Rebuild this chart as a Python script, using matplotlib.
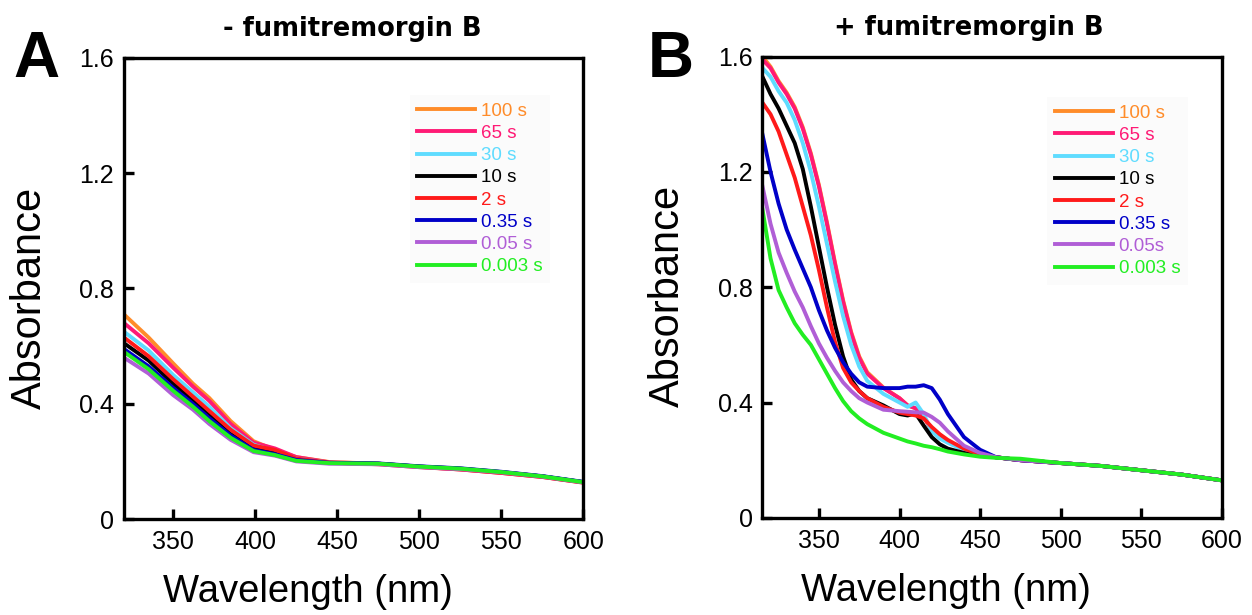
import numpy as np
import matplotlib
matplotlib.use('Agg')
import matplotlib.pyplot as plt
from matplotlib import font_manager

plt.rcParams['font.family'] = ['Liberation Sans', 'DejaVu Sans']

names = set(f.name for f in font_manager.fontManager.ttflist)
if 'Liberation Sans Narrow' in names:
    tick_font, tick_size = 'Liberation Sans Narrow', 21
else:
    tick_font, tick_size = 'Liberation Sans', 18

# legend labels / colours
labels_a = ['100 s', '65 s', '30 s', '10 s', '2 s', '0.35 s', '0.05 s', '0.003 s']
labels_b = ['100 s', '65 s', '30 s', '10 s', '2 s', '0.35 s', '0.05s', '0.003 s']
colors = ['#ff8c2a', '#ff1a75', '#5fdcff', '#000000', '#ff1a1a', '#0000c8', '#b05ed6', '#22ee22']

# panel A: - fumitremorgin B
wl_a = [320, 335, 350, 362, 372, 385, 399, 412, 425, 445, 475, 500, 525, 550, 575, 600]
a_100 = [0.71, 0.63, 0.54, 0.47, 0.42, 0.34, 0.27, 0.24, 0.215, 0.198, 0.192, 0.182, 0.174, 0.162, 0.148, 0.128]
a_65 = [0.68, 0.61, 0.525, 0.46, 0.41, 0.33, 0.265, 0.245, 0.215, 0.197, 0.192, 0.181, 0.172, 0.16, 0.146, 0.127]
a_30 = [0.65, 0.585, 0.50, 0.44, 0.39, 0.315, 0.258, 0.235, 0.21, 0.196, 0.192, 0.182, 0.174, 0.162, 0.148, 0.128]
a_10 = [0.61, 0.55, 0.47, 0.41, 0.36, 0.295, 0.245, 0.228, 0.205, 0.195, 0.192, 0.182, 0.175, 0.163, 0.148, 0.128]
a_2 = [0.63, 0.565, 0.485, 0.425, 0.375, 0.31, 0.255, 0.24, 0.21, 0.196, 0.19, 0.18, 0.172, 0.16, 0.146, 0.126]
a_035 = [0.59, 0.53, 0.455, 0.40, 0.35, 0.29, 0.24, 0.225, 0.205, 0.195, 0.193, 0.183, 0.176, 0.164, 0.149, 0.129]
a_005 = [0.56, 0.505, 0.43, 0.38, 0.33, 0.275, 0.232, 0.22, 0.20, 0.192, 0.19, 0.18, 0.173, 0.162, 0.147, 0.127]
a_0003 = [0.58, 0.52, 0.445, 0.39, 0.34, 0.282, 0.236, 0.222, 0.202, 0.194, 0.192, 0.182, 0.175, 0.163, 0.148, 0.128]

# panel B: + fumitremorgin B
wl_b = [315, 320, 325, 330, 335, 340, 345, 350, 355, 360, 365, 370, 375, 380, 390, 400,
        405, 410, 415, 420, 425, 430, 440, 450, 460, 475, 500, 525, 550, 575, 600]
b_100 = [1.60, 1.565, 1.515, 1.475, 1.425, 1.355, 1.265, 1.155, 1.025, 0.885, 0.755, 0.645, 0.56, 0.505, 0.452, 0.415,
         0.39, 0.38, 0.35, 0.305, 0.28, 0.265, 0.24, 0.22, 0.21, 0.2, 0.19, 0.18, 0.165, 0.15, 0.13]
b_65 = [1.59, 1.56, 1.51, 1.47, 1.42, 1.35, 1.26, 1.15, 1.02, 0.88, 0.75, 0.64, 0.555, 0.50, 0.45, 0.415,
        0.39, 0.38, 0.35, 0.305, 0.28, 0.265, 0.24, 0.22, 0.21, 0.2, 0.19, 0.18, 0.165, 0.15, 0.13]
b_30 = [1.56, 1.53, 1.48, 1.44, 1.38, 1.30, 1.20, 1.08, 0.95, 0.82, 0.70, 0.60, 0.525, 0.475, 0.43, 0.40,
        0.385, 0.40, 0.36, 0.30, 0.275, 0.26, 0.235, 0.22, 0.21, 0.2, 0.19, 0.18, 0.165, 0.15, 0.13]
b_10 = [1.53, 1.47, 1.42, 1.36, 1.30, 1.21, 1.08, 0.94, 0.80, 0.67, 0.56, 0.48, 0.44, 0.415, 0.39, 0.36,
        0.355, 0.362, 0.32, 0.28, 0.255, 0.24, 0.225, 0.215, 0.21, 0.2, 0.19, 0.18, 0.165, 0.15, 0.13]
b_2 = [1.44, 1.40, 1.34, 1.26, 1.18, 1.08, 0.98, 0.86, 0.73, 0.61, 0.52, 0.47, 0.44, 0.415, 0.385, 0.365,
       0.36, 0.355, 0.345, 0.315, 0.29, 0.27, 0.24, 0.22, 0.21, 0.2, 0.19, 0.18, 0.165, 0.15, 0.13]
b_035 = [1.33, 1.20, 1.09, 1.00, 0.93, 0.865, 0.80, 0.72, 0.65, 0.59, 0.54, 0.50, 0.47, 0.455, 0.45, 0.45,
         0.455, 0.455, 0.46, 0.45, 0.41, 0.36, 0.28, 0.236, 0.21, 0.2, 0.19, 0.18, 0.165, 0.15, 0.13]
b_005 = [1.15, 1.02, 0.92, 0.85, 0.785, 0.73, 0.665, 0.605, 0.555, 0.51, 0.47, 0.44, 0.415, 0.40, 0.375, 0.37,
         0.368, 0.366, 0.365, 0.35, 0.33, 0.30, 0.25, 0.225, 0.21, 0.2, 0.19, 0.18, 0.165, 0.15, 0.13]
b_0003 = [1.07, 0.90, 0.79, 0.73, 0.675, 0.635, 0.60, 0.55, 0.50, 0.45, 0.405, 0.37, 0.345, 0.325, 0.295, 0.275,
          0.265, 0.258, 0.25, 0.245, 0.238, 0.23, 0.22, 0.212, 0.208, 0.205, 0.19, 0.18, 0.165, 0.15, 0.13]

series_a = [a_100, a_65, a_30, a_10, a_2, a_035, a_005, a_0003]
series_b = [b_100, b_65, b_30, b_10, b_2, b_035, b_005, b_0003]

fig = plt.figure(figsize=(12.52, 6.15), dpi=100)
ax_a = fig.add_axes([0.099, 0.156, 0.367, 0.750])
ax_b = fig.add_axes([0.609, 0.158, 0.367, 0.750])


def style(ax, xmin, title, title_x, labels, leg_anchor):
    ax.set_xlim(xmin, 600)
    ax.set_ylim(0, 1.6)
    ax.set_xticks([350, 400, 450, 500, 550, 600])
    ax.set_yticks([0, 0.4, 0.8, 1.2, 1.6])
    ax.set_yticklabels(['0', '0.4', '0.8', '1.2', '1.6'])
    for s in ax.spines.values():
        s.set_linewidth(2.4)
    ax.tick_params(direction='in', length=7, width=2.4, labelsize=tick_size,
                   top=False, right=False)
    ax.tick_params(axis='y', pad=7)
    ax.tick_params(axis='x', pad=8)
    for t in ax.get_xticklabels() + ax.get_yticklabels():
        t.set_family(tick_font)
    ax.set_xlabel('Wavelength (nm)', fontsize=27.5)
    ax.xaxis.label.set_va('center')
    ax.xaxis.set_label_coords(0.40, -0.158)
    ax.set_ylabel('Absorbance', fontsize=30)
    ax.yaxis.label.set_va('center')
    ax.yaxis.set_label_coords(-0.205, 0.48)
    ax.text(title_x, 1.062, title, transform=ax.transAxes, fontsize=18.5,
            fontweight='bold', family='DejaVu Sans', ha='center', va='center')
    leg = ax.legend(labels, loc='upper left', bbox_to_anchor=leg_anchor,
                    fontsize=13.5, handlelength=3.1, handletextpad=0.3,
                    labelspacing=0.27, borderaxespad=0, frameon=True,
                    fancybox=False, labelcolor='linecolor')
    leg.get_frame().set_facecolor('#fafafa')
    leg.get_frame().set_edgecolor('none')


for ys, c in zip(series_a, colors):
    ax_a.plot(wl_a, ys, color=c, lw=2.8)
style(ax_a, 320, '- fumitremorgin B', 0.497, labels_a, (0.622, 0.919))

for ys, c in zip(series_b, colors):
    ax_b.plot(wl_b, ys, color=c, lw=2.8)
style(ax_b, 315, '+ fumitremorgin B', 0.448, labels_b, (0.62, 0.912))

fig.text(13 / 1252, 1 - 77 / 615, 'A', fontsize=46, fontweight='bold',
         ha='left', va='baseline')
fig.text(648 / 1252, 1 - 77 / 615, 'B', fontsize=46, fontweight='bold',
         ha='left', va='baseline')

fig.savefig('out.png', dpi=100)
